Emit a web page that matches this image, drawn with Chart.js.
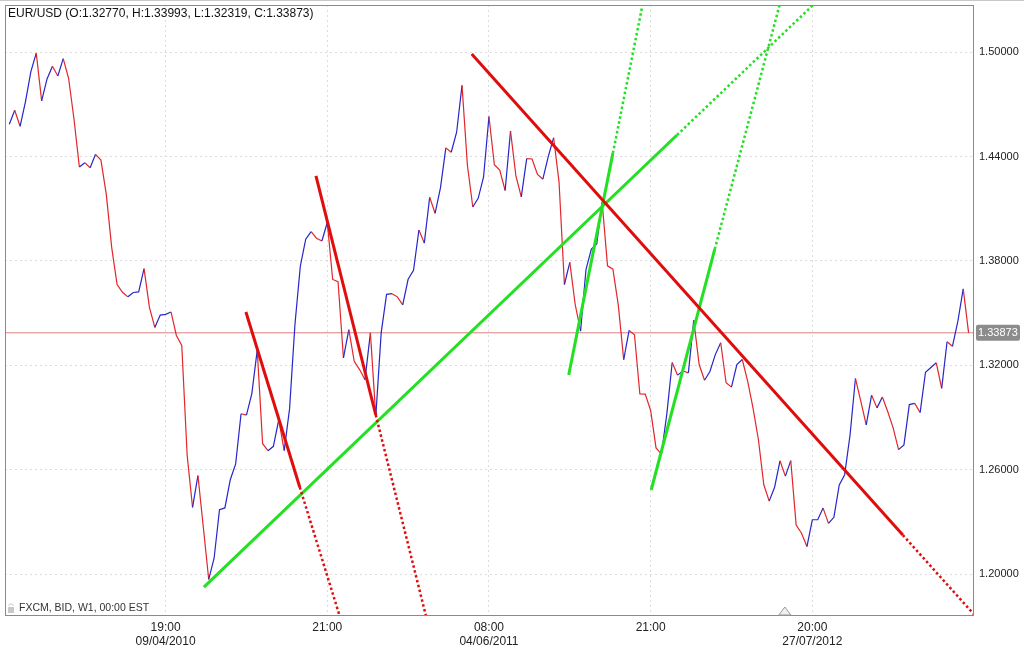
<!DOCTYPE html>
<html>
<head>
<meta charset="utf-8">
<script src="https://cdn.jsdelivr.net/npm/chart.js@4.4.1/dist/chart.umd.min.js"></script>
<style>
  html, body { margin: 0; padding: 0; background: #fff; }
  #wrap { width: 1024px; height: 648px; position: relative; }
</style>
</head>
<body>
<div id="wrap"><canvas id="fx"></canvas></div>
<script>
// weekly closes, EUR/USD
var closes = [
    1.4586, 1.4666, 1.4574, 1.4716, 1.4888, 1.4994, 1.4720, 1.4846, 1.4919, 1.4863,
    1.4963, 1.4850, 1.4616, 1.4340, 1.4365, 1.4336, 1.4413, 1.4380, 1.4181, 1.3877,
    1.3665, 1.3620, 1.3594, 1.3619, 1.3622, 1.3756, 1.3533, 1.3418, 1.3489, 1.3493,
    1.3507, 1.3372, 1.3315, 1.2684, 1.2384, 1.2567, 1.2270, 1.1970, 1.2092, 1.2371,
    1.2381, 1.2543, 1.2634, 1.2922, 1.2914, 1.3038, 1.3288, 1.2750, 1.2710, 1.2735,
    1.2889, 1.2710, 1.2950, 1.3435, 1.3771, 1.3925, 1.3969, 1.3931, 1.3915, 1.4021,
    1.3694, 1.3681, 1.3243, 1.3406, 1.3224, 1.3176, 1.3118, 1.3387, 1.2907, 1.3387,
    1.3608, 1.3612, 1.3594, 1.3548, 1.3695, 1.3747, 1.3978, 1.3903, 1.4166, 1.4074,
    1.4220, 1.4450, 1.4425, 1.4540, 1.4809, 1.4350, 1.4110, 1.4160, 1.4283, 1.4630,
    1.4353, 1.4323, 1.4205, 1.4546, 1.4289, 1.4168, 1.4388, 1.4386, 1.4298, 1.4270,
    1.4400, 1.4508, 1.4255, 1.3665, 1.3792, 1.3550, 1.3397, 1.3750, 1.3869, 1.3898,
    1.4138, 1.3772, 1.3753, 1.3546, 1.3233, 1.3401, 1.3376, 1.3036, 1.3035, 1.2941,
    1.2726, 1.2690, 1.2920, 1.3217, 1.3144, 1.3168, 1.3157, 1.3460, 1.3205, 1.3115,
    1.3165, 1.3262, 1.3330, 1.3100, 1.3075, 1.3205, 1.3234, 1.3110, 1.2955, 1.2773,
    1.2514, 1.2420, 1.2500, 1.2652, 1.2564, 1.2653, 1.2282, 1.2236, 1.2159, 1.2313,
    1.2313, 1.2380, 1.2292, 1.2327, 1.2513, 1.2572, 1.2800, 1.3125, 1.2993, 1.2858,
    1.3029, 1.2956, 1.3018, 1.2934, 1.2841, 1.2716, 1.2743, 1.2975, 1.2982, 1.2929,
    1.3161, 1.3188, 1.3215, 1.3068, 1.3336, 1.3310, 1.3453, 1.3640, 1.33873
]
var lastClose = 1.33873
var titleText = 'EUR/USD (O:1.32770, H:1.33993, L:1.32319, C:1.33873)'
var footText = 'FXCM, BID, W1, 00:00 EST'

var xTickIdx = [29, 59, 89, 119, 149]
var xTickTime = ['19:00', '21:00', '08:00', '21:00', '20:00']
var xTickDate = ['09/04/2010', '', '04/06/2011', '', '27/07/2012']
var yTicks = [1.20, 1.26, 1.32, 1.38, 1.44, 1.50]

// trend lines: [start, end of solid part, end of dotted part] as [week index, price]
var redLine1 = [[43.9, 1.3507], [53.9, 1.2500], [61.9, 1.1700]]
var redLine2 = [[56.9, 1.4289], [68.0, 1.2915], [77.8, 1.1700]]
var redLine3 = [[85.8, 1.4990], [165.8, 1.2225], [181.0, 1.1700]]
var greenLine1 = [[36.1, 1.1926], [123.9, 1.4524], [151.8, 1.5350]]
var greenLine2 = [[103.8, 1.3145], [112.0, 1.4420], [118.0, 1.5350]]
var greenLine3 = [[119.1, 1.2484], [130.9, 1.3868], [143.6, 1.5350]]

var UP = '#2626c9'
var DOWN = '#e2262b'
var TREND_RED = '#e00d0d'
var TREND_GREEN = '#22e022'
var FONT = '"Liberation Sans", Arial, sans-serif'

function pt(p) { return {x: p[0], y: p[1]} }

function trendSets(line, color) {
    return [{
        data: [pt(line[0]), pt(line[1])],
        borderColor: color,
        borderWidth: 3,
        pointRadius: 0,
        order: 0
    }, {
        data: [pt(line[1]), pt(line[2])],
        borderColor: color,
        borderWidth: 2.5,
        borderDash: [2.5, 2.5],
        pointRadius: 0,
        order: 0
    }]
}

var priceData = closes.map(function(v, i) { return {x: i, y: v} })

var datasets = [].concat(
    trendSets(redLine1, TREND_RED),
    trendSets(redLine2, TREND_RED),
    trendSets(redLine3, TREND_RED),
    trendSets(greenLine1, TREND_GREEN),
    trendSets(greenLine2, TREND_GREEN),
    trendSets(greenLine3, TREND_GREEN),
    [{
        data: priceData,
        borderWidth: 1.2,
        borderColor: DOWN,
        pointRadius: 0,
        order: 10,
        segment: {
            borderColor: function(c) { return c.p1.parsed.y >= c.p0.parsed.y ? UP : DOWN }
        }
    }, {
        data: [{x: -2, y: lastClose}, {x: 182, y: lastClose}],
        borderColor: '#d98080',
        borderWidth: 1,
        pointRadius: 0,
        order: 20
    }]
)

var overlay = {
    id: 'overlay',
    afterDraw: function(chart) {
        var ctx = chart.ctx
        var a = chart.chartArea
        var ys = chart.scales.y
        var xs = chart.scales.x
        ctx.save()

        // frame
        ctx.strokeStyle = '#8a8a8a'
        ctx.lineWidth = 1
        ctx.strokeRect(a.left + 0.5, a.top + 0.5, a.right - a.left - 1, a.bottom - a.top - 1)
        ctx.strokeStyle = '#c8c8c8'
        ctx.beginPath(); ctx.moveTo(0, 0.5); ctx.lineTo(1024, 0.5); ctx.stroke()

        // title
        ctx.fillStyle = '#111'
        ctx.font = '12px ' + FONT
        ctx.textBaseline = 'middle'
        ctx.textAlign = 'left'
        ctx.fillText(titleText, a.left + 3, a.top + 9)

        // footer with lock icon
        ctx.fillStyle = '#c9c9c9'
        ctx.fillRect(a.left + 3, a.bottom - 9, 6, 6)
        ctx.strokeStyle = '#c9c9c9'
        ctx.beginPath(); ctx.arc(a.left + 6, a.bottom - 10, 2.2, Math.PI, 0); ctx.stroke()
        ctx.fillStyle = '#333'
        ctx.font = '10.5px ' + FONT
        ctx.fillText(footText, a.left + 14, a.bottom - 8)

        // last price label
        var py = ys.getPixelForValue(lastClose)
        ctx.fillStyle = '#8c8c8c'
        ctx.beginPath()
        ctx.roundRect(a.right + 2, py - 8, 44, 16, 2)
        ctx.fill()
        ctx.fillStyle = '#fff'
        ctx.font = '11px ' + FONT
        ctx.fillText(lastClose.toFixed(5), a.right + 4, py + 0.5)

        // small marker on the time axis
        var tx = xs.getPixelForValue(143.9)
        ctx.fillStyle = '#eef0f4'
        ctx.strokeStyle = '#9a9a9a'
        ctx.beginPath()
        ctx.moveTo(tx, a.bottom - 9)
        ctx.lineTo(tx - 6, a.bottom - 1)
        ctx.lineTo(tx + 6, a.bottom - 1)
        ctx.closePath()
        ctx.fill(); ctx.stroke()

        ctx.restore()
    }
}

new Chart(document.getElementById('fx'), {
    type: 'line',
    data: { datasets: datasets },
    options: {
        responsive: true,
        maintainAspectRatio: false,
        animation: false,
        layout: { padding: { left: 5, top: 5, right: 0, bottom: 0 } },
        plugins: {
            legend: { display: false },
            tooltip: { enabled: false },
            title: { display: false }
        },
        scales: {
            x: {
                type: 'linear',
                min: -0.8,
                max: 179,
                afterBuildTicks: function(s) {
                    s.ticks = xTickIdx.map(function(v) { return {value: v} })
                },
                afterFit: function(s) {
                    s.height = 32
                    s.paddingLeft = 0
                    s.paddingRight = 0
                },
                ticks: {
                    autoSkip: false,
                    maxRotation: 0,
                    padding: 4,
                    color: '#222',
                    font: { family: FONT, size: 12 },
                    callback: function(v) {
                        var i = xTickIdx.indexOf(v)
                        return i < 0 ? '' : [xTickTime[i], xTickDate[i]]
                    }
                },
                grid: { color: '#dcdcdc', drawTicks: false },
                border: { display: false, dash: [2, 3] }
            },
            y: {
                position: 'right',
                min: 1.176,
                max: 1.5271,
                afterBuildTicks: function(s) {
                    s.ticks = yTicks.map(function(v) { return {value: v} })
                },
                afterFit: function(s) {
                    s.width = 50
                    s.paddingTop = 0
                    s.paddingBottom = 0
                },
                ticks: {
                    padding: 5,
                    color: '#222',
                    font: { family: FONT, size: 11 },
                    callback: function(v) { return v.toFixed(5) }
                },
                grid: { color: '#dcdcdc', drawTicks: false },
                border: { display: false, dash: [2, 3] }
            }
        }
    },
    plugins: [overlay]
})
</script>
</body>
</html>
